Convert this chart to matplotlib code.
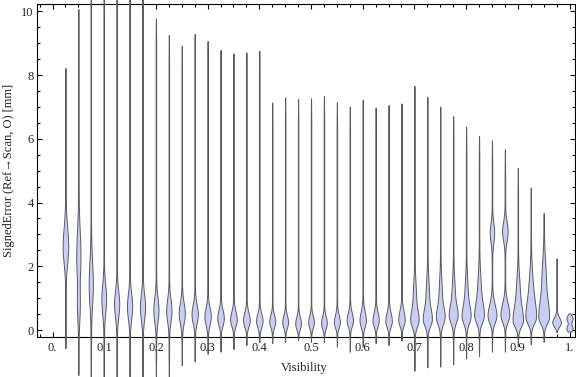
import matplotlib
matplotlib.use("Agg")
import matplotlib.pyplot as plt
import numpy as np
from matplotlib.ticker import MultipleLocator

plt.rcParams['font.family'] = ['Liberation Serif', 'DejaVu Serif']

# Visibility bins (one violin per bin)
visibility = [0.025 * k for k in range(1, 41)]

# extent of each violin (mm)
err_max = [8.22, 10.07, 10.9, 11.3, 11.6, 11.2, 10.7, 9.78, 9.26, 8.92,
           9.29, 9.07, 8.79, 8.68, 8.71, 8.76, 7.14, 7.30, 7.25, 7.27,
           7.34, 7.15, 7.01, 7.22, 6.98, 7.06, 7.11, 7.66, 7.32, 7.01,
           6.71, 6.38, 6.09, 5.95, 5.67, 5.09, 4.47, 3.67, 2.25, 0.52]
err_min = [-0.57, -1.41, -1.55, -1.55, -1.55, -1.55, -1.55, -1.55, -1.55, -1.10,
           -0.99, -0.75, -0.68, -0.60, -0.47, -0.38, -0.41, -0.37, -0.31, -0.37,
           -0.37, -0.52, -0.68, -0.52, -0.41, -0.47, -0.33, -1.28, -1.17, -1.15,
           -1.08, -0.89, -0.81, -0.68, -0.68, -0.52, -0.44, -0.37, -0.07, -0.05]

# main density peak: location, relative density, spread below / above
peak_loc = [2.6, 2.3, 1.4, 0.95, 0.8, 0.72, 0.7, 0.62, 0.6, 0.52,
            0.5, 0.42, 0.37, 0.33, 0.31, 0.29, 0.27, 0.25, 0.2, 0.24,
            0.22, 0.25, 0.3, 0.3, 0.3, 0.28, 0.32, 0.3, 0.33, 0.4,
            0.45, 0.42, 0.45, 0.45, 0.48, 0.3, 0.4, 0.4, 0.24, 0.05]
peak_dens = [0.52, 0.38, 0.38, 0.43, 0.48, 0.48, 0.48, 0.48, 0.5, 0.57,
             0.59, 0.6, 0.62, 0.64, 0.64, 0.62, 0.57, 0.55, 0.55, 0.55,
             0.55, 0.57, 0.6, 0.6, 0.6, 0.62, 0.62, 0.7, 0.74, 0.74,
             0.74, 0.76, 0.81, 0.86, 0.86, 0.95, 0.95, 1.0, 0.86, 0.62]
spread_lo = [0.5, 0.6, 0.6, 0.45, 0.4, 0.38, 0.38, 0.35, 0.33, 0.3,
             0.28, 0.25, 0.22, 0.2, 0.2, 0.2, 0.18, 0.18, 0.17, 0.17,
             0.17, 0.17, 0.18, 0.2, 0.18, 0.18, 0.18, 0.2, 0.2, 0.22,
             0.22, 0.22, 0.22, 0.22, 0.22, 0.2, 0.2, 0.2, 0.13, 0.1]
spread_hi = [0.6, 0.8, 0.7, 0.45, 0.4, 0.4, 0.4, 0.38, 0.36, 0.33,
             0.3, 0.28, 0.26, 0.25, 0.24, 0.22, 0.2, 0.2, 0.2, 0.2,
             0.2, 0.22, 0.24, 0.28, 0.25, 0.26, 0.28, 0.3, 0.3, 0.3,
             0.3, 0.32, 0.35, 0.35, 0.35, 0.4, 0.45, 0.5, 0.15, 0.1]

# secondary mode / shoulder (density 0 = none)
peak2_loc = [0, 0.8, 0, 0, 0, 0, 0, 0, 0, 0,
             0, 0, 0, 0, 0, 0, 0, 0, 0, 0,
             0, 0, 0, 0, 0, 0, 0, 1.0, 1.0, 1.1,
             1.1, 1.1, 1.2, 3.05, 3.1, 1.2, 1.3, 1.6, 0, 0.37]
peak2_dens = [0, 0.24, 0, 0, 0, 0, 0, 0, 0, 0,
              0, 0, 0, 0, 0, 0, 0, 0, 0, 0,
              0, 0, 0, 0, 0, 0, 0, 0.28, 0.3, 0.28,
              0.28, 0.28, 0.33, 0.4, 0.52, 0.33, 0.36, 0.38, 0, 0.62]
peak2_spread = [1, 0.5, 1, 1, 1, 1, 1, 1, 1, 1,
                1, 1, 1, 1, 1, 1, 1, 1, 1, 1,
                1, 1, 1, 1, 1, 1, 1, 0.5, 0.55, 0.5,
                0.5, 0.5, 0.55, 0.3, 0.3, 0.5, 0.55, 0.6, 1, 0.1]

FILL = '#c9cff4'
EDGE = '#5a5a62'
HALF_MAX = 0.0094   # half width (visibility units) of the densest violin
TAIL = 0.0005


def violin_profile(i, y):
    d = y - peak_loc[i]
    s = np.where(d < 0, spread_lo[i], spread_hi[i])
    hw = peak_dens[i] * np.exp(-0.5 * (d / s) ** 2)
    if peak2_dens[i] > 0:
        hw = hw + peak2_dens[i] * np.exp(-0.5 * ((y - peak2_loc[i]) / peak2_spread[i]) ** 2)
    hw = hw * HALF_MAX
    taper = np.clip(np.minimum(err_max[i] - y, y - err_min[i]) / 0.8, 0, 1) ** 0.6
    hw = hw + TAIL * taper
    hw[0] = 0
    hw[-1] = 0
    return hw


fig = plt.figure(figsize=(5.76, 3.77), dpi=100)
ax = fig.add_axes([37 / 576, 1 - 337.3 / 377, 538 / 576, 333 / 377])

for i, v in enumerate(visibility):
    y = np.linspace(err_min[i], err_max[i], 600)
    hw = violin_profile(i, y)
    ax.fill_betweenx(y, v - hw, v + hw, facecolor=FILL, edgecolor=EDGE,
                     linewidth=0.7, clip_on=False, zorder=3)

ax.set_xlim(-0.030, 1.0106)
ax.set_ylim(-0.229, 10.22)

xt = [round(0.1 * k, 1) for k in range(11)]
xlabels = ['0.'] + [f'{t:.1f}' for t in xt[1:-1]] + ['1.']
ax.set_xticks(xt)
ax.set_xticklabels(xlabels)
ax.xaxis.set_minor_locator(MultipleLocator(0.025))
ax.set_yticks([0, 2, 4, 6, 8, 10])
ax.yaxis.set_minor_locator(MultipleLocator(0.5))

ax.tick_params(which='both', direction='in', top=True, right=True,
               width=0.8, colors='black', labelsize=9, labelcolor='#222222')
ax.tick_params(which='major', length=3.4)
ax.tick_params(which='minor', length=1.9)
ax.tick_params(axis='x', pad=3.5)
ax.tick_params(axis='y', pad=2.5)
for sp in ax.spines.values():
    sp.set_linewidth(0.8)

fig.text(304 / 576, 1 - 368 / 377, 'Visibility', ha='center', va='center',
         fontsize=9, color='#222222')
fig.text(9 / 576, 1 - 170 / 377, 'SignedError (Ref\u2192Scan, O) [mm]',
         ha='center', va='center', rotation=90, fontsize=9, color='#222222')

fig.savefig('out.png', dpi=100)
